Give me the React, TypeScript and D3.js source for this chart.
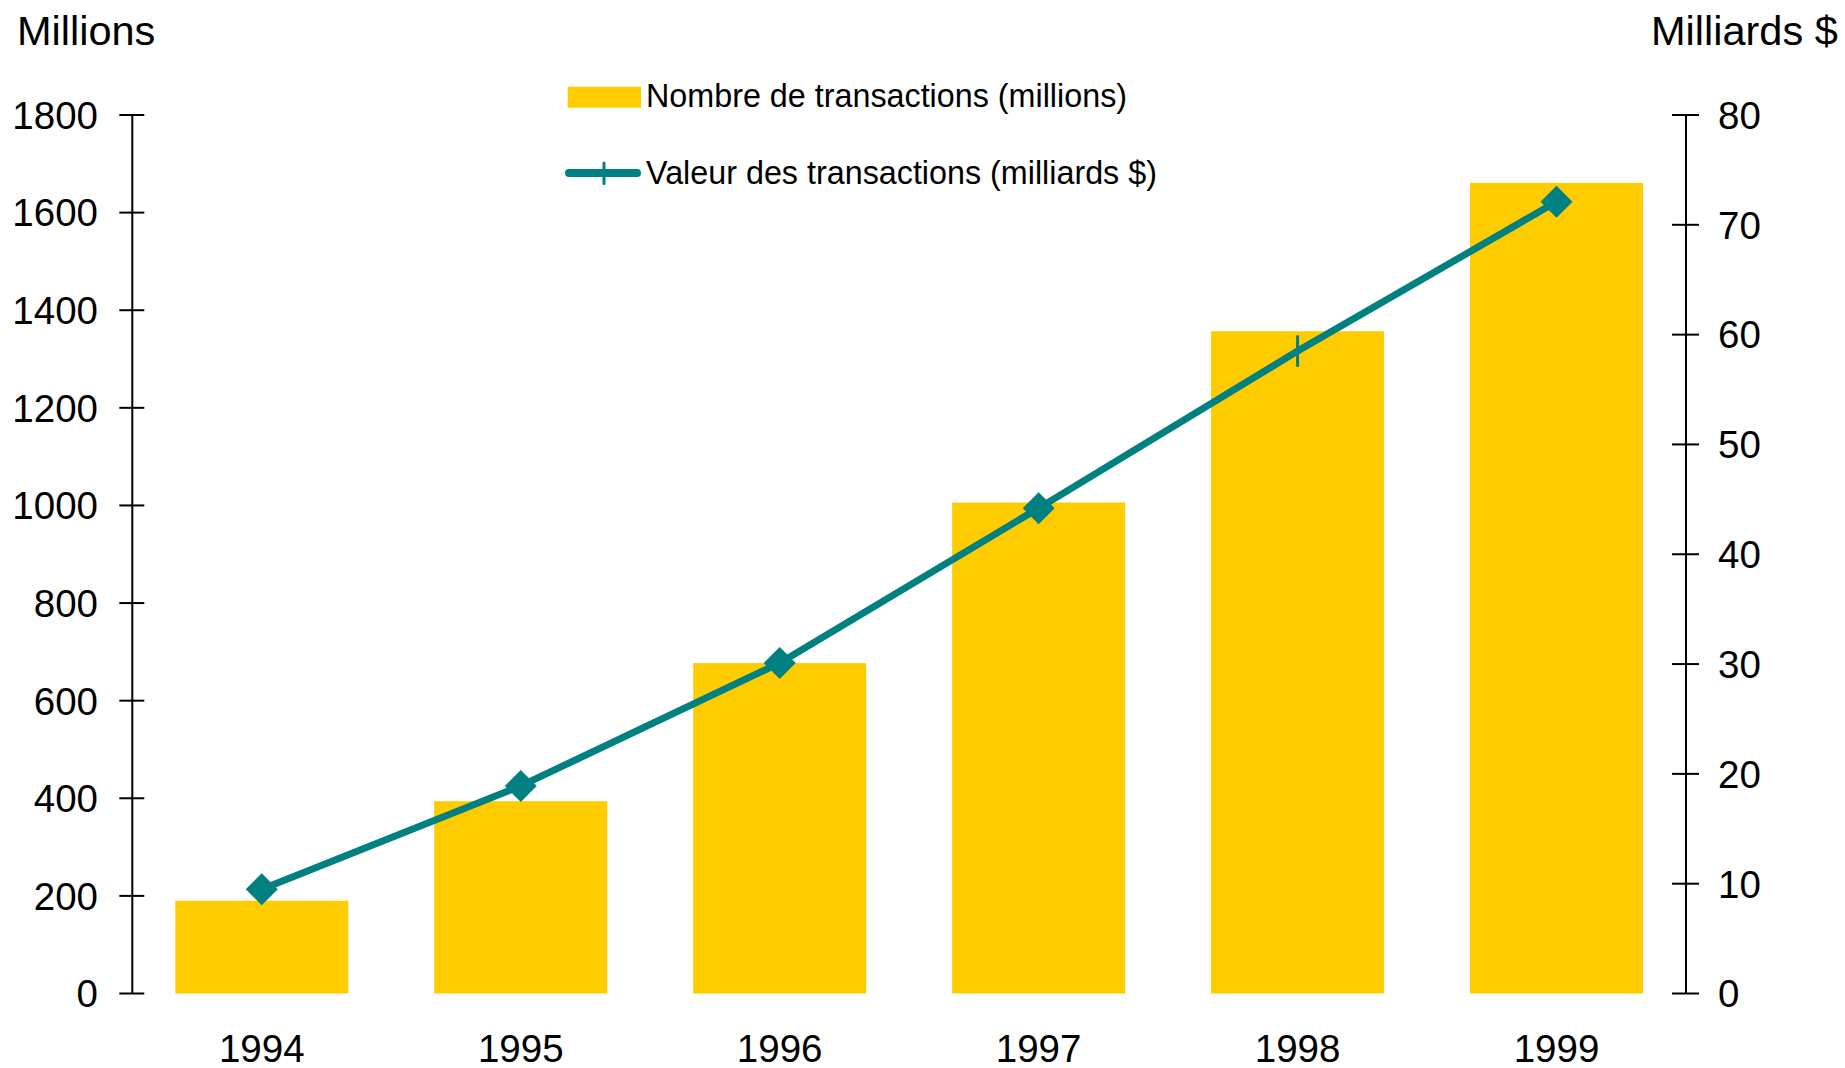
import React from "react";
import * as d3 from "d3";

const years = ["1994", "1995", "1996", "1997", "1998", "1999"];
const transactionsCount = [190, 394, 677, 1006, 1357, 1661];
const transactionsValue = [9.5, 18.9, 30.1, 44.2, 58.5, 72.1];
const markerKinds = ["diamond", "diamond", "diamond", "diamond", "tick", "diamond"];
const leftTicks = [0, 200, 400, 600, 800, 1000, 1200, 1400, 1600, 1800];
const rightTicks = [0, 10, 20, 30, 40, 50, 60, 70, 80];
const legendLabels = ["Nombre de transactions (millions)", "Valeur des transactions (milliards $)"];
const leftTitle = "Millions";
const rightTitle = "Milliards $";

const W = 1845;
const H = 1068;
const FONT = "'Liberation Sans', Arial, Helvetica, sans-serif";
const BAR = "#FFCC00";
const LINE = "#008080";

export default function App() {
  const x0 = 132.3;
  const x1 = 1686;
  const yTop = 115;
  const yBot = 993.5;

  const x = d3.scaleBand<string>().domain(years).range([x0, x1]).paddingInner(0).paddingOuter(0);
  const yL = d3.scaleLinear().domain([0, 1800]).range([yBot, yTop]);
  const yR = d3.scaleLinear().domain([0, 80]).range([yBot, yTop]);
  const step = x.step();
  const bw = step * 0.668;
  const cx = (c: string) => (x(c) as number) + step / 2;

  const line = d3
    .line<number>()
    .x((_, i) => cx(years[i]))
    .y((d) => yR(d));

  return (
    <svg
      width={W}
      height={H}
      style={{ position: "absolute", left: 0, top: 0, background: "#fff" }}
      fontFamily={FONT}
    >
      <rect x={0} y={0} width={W} height={H} fill="#fff" />
      {/* bars */}
      {years.map((c, i) => (
        <rect
          key={c}
          x={cx(c) - bw / 2}
          y={yL(transactionsCount[i])}
          width={bw}
          height={yBot - yL(transactionsCount[i])}
          fill={BAR}
        />
      ))}
      {/* left axis */}
      <line x1={x0} x2={x0} y1={yTop} y2={yBot} stroke="#000" strokeWidth={2} />
      {leftTicks.map((t) => (
        <g key={"l" + t}>
          <line x1={x0 - 13} x2={x0 + 12} y1={yL(t)} y2={yL(t)} stroke="#000" strokeWidth={2} />
          <text x={98} y={yL(t)} dy="0.36em" textAnchor="end" fontSize={38.5} fill="#000">
            {t}
          </text>
        </g>
      ))}
      {/* right axis */}
      <line x1={x1} x2={x1} y1={yTop} y2={yBot} stroke="#000" strokeWidth={2} />
      {rightTicks.map((t) => (
        <g key={"r" + t}>
          <line x1={x1 - 14} x2={x1 + 13} y1={yR(t)} y2={yR(t)} stroke="#000" strokeWidth={2} />
          <text x={1718} y={yR(t)} dy="0.36em" textAnchor="start" fontSize={38.5} fill="#000">
            {t}
          </text>
        </g>
      ))}
      {/* x labels */}
      {years.map((c) => (
        <text key={"x" + c} x={cx(c)} y={1062} textAnchor="middle" fontSize={38.5} fill="#000">
          {c}
        </text>
      ))}
      {/* line */}
      <path
        d={line(transactionsValue) || ""}
        fill="none"
        stroke={LINE}
        strokeWidth={7}
        strokeLinejoin="round"
      />
      {transactionsValue.map((v, i) => {
        const px = cx(years[i]);
        const py = yR(v);
        if (markerKinds[i] === "diamond") {
          const r = 16;
          return (
            <path
              key={"m" + i}
              d={`M${px},${py - r}L${px + r},${py}L${px},${py + r}L${px - r},${py}Z`}
              fill={LINE}
            />
          );
        }
        return (
          <line
            key={"m" + i}
            x1={px}
            x2={px}
            y1={py - 14.5}
            y2={py + 14.5}
            stroke={LINE}
            strokeWidth={3}
            strokeLinecap="round"
          />
        );
      })}
      {/* titles */}
      <text x={17} y={45} fontSize={41.5} fill="#000">
        {leftTitle}
      </text>
      <text x={1651} y={45} fontSize={41.5} fill="#000">
        {rightTitle}
      </text>
      {/* legend */}
      <rect x={567.7} y={86.7} width={73.3} height={21} fill={BAR} />
      <text x={646} y={106.5} fontSize={32.3} fill="#000">
        {legendLabels[0]}
      </text>
      <line x1={569} x2={637} y1={173} y2={173} stroke={LINE} strokeWidth={8} strokeLinecap="round" />
      <line x1={604} x2={604} y1={163} y2={183.5} stroke={LINE} strokeWidth={3} strokeLinecap="round" />
      <text x={646} y={183.5} fontSize={32.3} fill="#000">
        {legendLabels[1]}
      </text>
    </svg>
  );
}
